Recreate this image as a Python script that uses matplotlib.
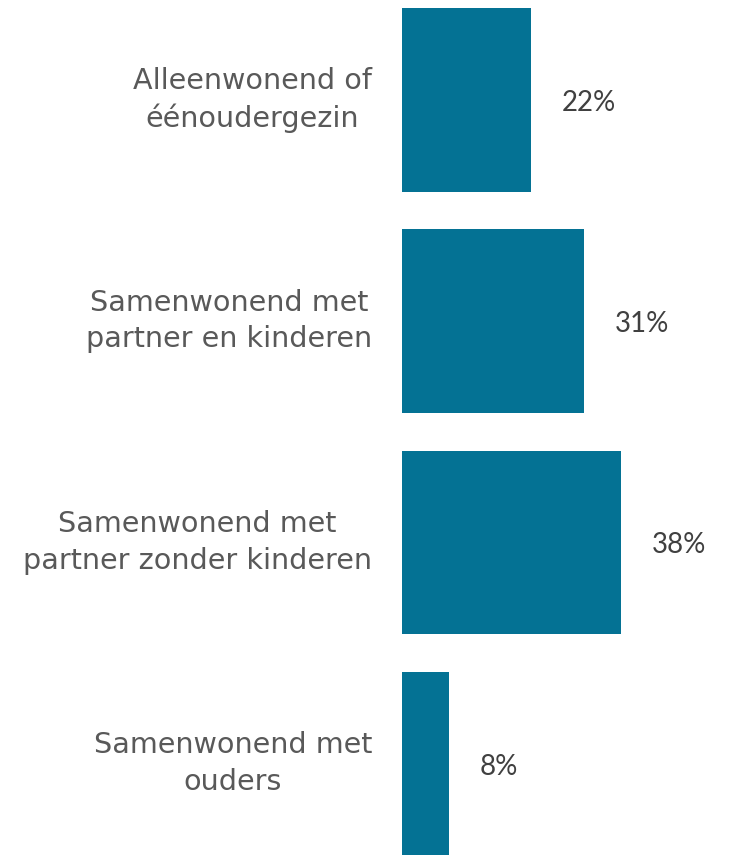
import matplotlib.pyplot as plt
from matplotlib.transforms import offset_copy

categories = [
    "Alleenwonend of\néénoudergezin",
    "Samenwonend met\npartner en kinderen",
    "Samenwonend met\npartner zonder kinderen",
    "Samenwonend met\nouders",
]
values = [22, 31, 37.3, 8]
value_labels = ["22%", "31%", "38%", "8%"]

BAR_COLOR = "#047294"
LABEL_COLOR = "#595959"
VALUE_COLOR = "#404040"

fig = plt.figure(figsize=(7.36, 8.55), dpi=100)
ax = fig.add_axes([0, 0, 1, 1])

y = list(range(len(categories)))
ax.barh(y, values, height=0.83, color=BAR_COLOR)

# map the figure so bars start at x=402px and top bar sits at y=8px
ax.set_xlim(-68.6, 57.0)
ax.set_ylim(3.413, -0.452)
ax.axis("off")

lab_tr = offset_copy(ax.transData, fig=fig, x=-30, y=0, units="dots")
val_tr = offset_copy(ax.transData, fig=fig, x=31, y=-3, units="dots")
for i, (cat, v, vl) in enumerate(zip(categories, values, value_labels)):
    ax.text(0, i, cat, transform=lab_tr, ha="right", va="center",
            multialignment="center", fontsize=20.6, color=LABEL_COLOR,
            family="DejaVu Sans", linespacing=1.38)
    ax.text(v, i, vl, transform=val_tr, ha="left", va="center",
            fontsize=20, color=VALUE_COLOR, family="Lato")

fig.savefig("out.png", dpi=100, facecolor="white")
